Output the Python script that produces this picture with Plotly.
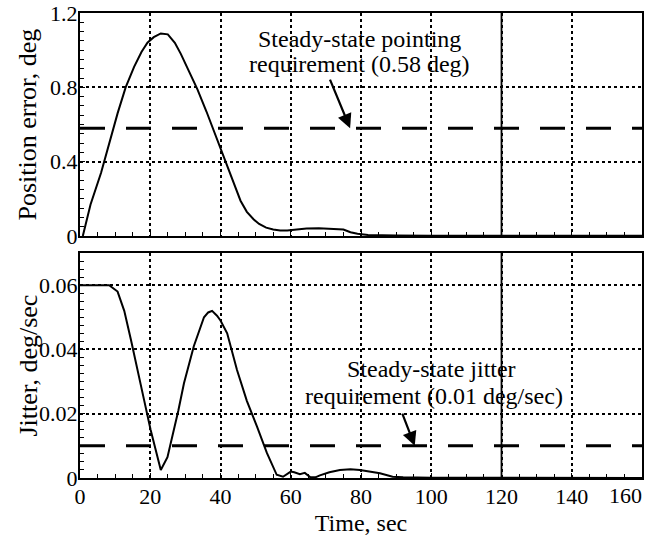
import plotly.graph_objects as go

# ---- data ----
pos_time = [0.8, 3, 6, 8, 10.7, 13, 15.4, 17.5, 19.2, 21, 23, 25, 27, 28.7, 31, 33.4, 36, 38, 40, 42,
            44, 45.7, 47.5, 49.4, 51, 53, 55, 57, 59, 61, 64.5, 68, 72, 75, 77, 79, 82, 86, 90, 100,
            120, 140, 160]
pos_err = [0.0, 0.17, 0.34, 0.48, 0.66, 0.80, 0.91, 0.99, 1.04, 1.07, 1.09, 1.085, 1.04, 0.98, 0.89,
           0.79, 0.67, 0.57, 0.47, 0.37, 0.27, 0.19, 0.13, 0.09, 0.065, 0.045, 0.035, 0.03, 0.03, 0.035,
           0.04, 0.042, 0.04, 0.035, 0.02, 0.012, 0.006, 0.004, 0.003, 0.002, 0.002, 0.002, 0.002]

jit_time = [0, 8.3, 10.7, 12.6, 14.5, 16.4, 18.3, 20.1, 22, 23, 24.9, 26.8, 28, 29.6, 32.4, 35.3, 36.5,
            37.6, 39, 40, 41.9, 44.7, 47.5, 50.4, 53.2, 56, 57.8, 60, 61, 62.6, 64, 65.5, 67, 68.3, 71,
            74, 77, 79.7, 82, 85.4, 89, 92, 100, 120, 140, 160]
jitter = [0.06, 0.06, 0.058, 0.052, 0.043, 0.033, 0.024, 0.015, 0.0065, 0.0025, 0.0065, 0.015, 0.021,
          0.0295, 0.041, 0.05, 0.0515, 0.052, 0.0505, 0.049, 0.045, 0.0336, 0.024, 0.016, 0.0078, 0.001,
          0.0004, 0.002, 0.0018, 0.0012, 0.0016, 0.0003, 0.0002, 0.0008, 0.0018, 0.0025, 0.0027, 0.0025,
          0.002, 0.0015, 0.0004, 0.0002, 0.0001, 0.0, 0.0, 0.0]

pointing_req = 0.58
jitter_req = 0.01
marker_time = 120
time_range = [0, 160]
x_ticks = [0, 20, 40, 60, 80, 100, 120, 140, 160]
x_tick_text = ["0", "20", "40", "60", "80", "100", "120", "140", "160"]
pos_ticks = [0, 0.4, 0.8, 1.2]
pos_tick_text = ["0", "0.4", "0.8", "1.2"]
jit_ticks = [0, 0.02, 0.04, 0.06]
jit_tick_text = ["0", "0.02", "0.04", "0.06"]

FONT = "Liberation Serif"
BLACK = "black"
tick_font = dict(family=FONT, size=22, color=BLACK)

# the last x label sits left of its tick (inside the figure edge), as in the original:
# it is drawn by an overlaying axis whose labels are right-aligned to the tick.
main_x_text = x_tick_text[:-1] + [""]
edge_x_vals = [x_ticks[-1]]
edge_x_text = [x_tick_text[-1]]

fig = go.Figure()

fig.add_trace(go.Scatter(x=pos_time, y=pos_err, mode="lines", line=dict(color=BLACK, width=2),
                         xaxis="x", yaxis="y", showlegend=False))
fig.add_trace(go.Scatter(x=time_range, y=[pointing_req] * 2, mode="lines",
                         line=dict(color=BLACK, width=3, dash="25px,21px"),
                         xaxis="x", yaxis="y", showlegend=False))
fig.add_trace(go.Scatter(x=jit_time, y=jitter, mode="lines", line=dict(color=BLACK, width=2),
                         xaxis="x2", yaxis="y2", showlegend=False))
fig.add_trace(go.Scatter(x=time_range, y=[jitter_req] * 2, mode="lines",
                         line=dict(color=BLACK, width=3, dash="25px,21px"),
                         xaxis="x3", yaxis="y2", showlegend=False))

common_x = dict(range=time_range, tickvals=x_ticks, ticktext=main_x_text, showgrid=True,
                gridcolor=BLACK, gridwidth=1.5, griddash="dot", showline=True, linecolor=BLACK,
                linewidth=2, mirror=True, ticks="inside", ticklen=5, tickcolor=BLACK, zeroline=False,
                automargin=False, ticklabelstandoff=-2,
                minor=dict(dtick=5, ticks="inside", ticklen=4, tickcolor=BLACK, showgrid=False),
                tickfont=tick_font)
common_y = dict(showgrid=True, gridcolor=BLACK, gridwidth=1.5, griddash="dot", showline=True,
                linecolor=BLACK, linewidth=2, mirror=True, ticks="inside", ticklen=5,
                tickcolor=BLACK, zeroline=False, automargin=False, ticklabelstandoff=-4,
                ticklabeloverflow="allow", tickfont=tick_font)

fig.update_layout(
    width=656, height=536,
    margin=dict(l=80, r=14, t=13, b=58, autoexpand=False),
    paper_bgcolor="white", plot_bgcolor="white",
    xaxis=dict(common_x, anchor="y", showticklabels=False),
    yaxis=dict(common_y, domain=[0.5204, 1], range=[0, 1.2], tickvals=pos_ticks,
               ticktext=pos_tick_text, minor=dict(dtick=0.05, ticks="inside", ticklen=4,
                                                  tickcolor=BLACK, showgrid=False)),
    xaxis2=dict(common_x, anchor="y2", matches="x",
                title=dict(text="Time, sec", font=dict(family=FONT, size=24, color=BLACK), standoff=6)),
    xaxis3=dict(range=time_range, anchor="y2", overlaying="x2", side="bottom", matches="x",
                tickvals=edge_x_vals, ticktext=edge_x_text, ticklabelposition="outside left",
                ticks="", showgrid=False, showline=False, zeroline=False, automargin=False,
                ticklabelstandoff=2, tickfont=tick_font),
    yaxis2=dict(common_y, domain=[0, 0.4839], range=[0, 0.07], tickvals=jit_ticks,
                ticktext=jit_tick_text, minor=dict(dtick=0.0025, ticks="inside", ticklen=4,
                                                   tickcolor=BLACK, showgrid=False)),
)

# solid reference line at the marker time in both panels
for xr, yr in (("x", "y domain"), ("x2", "y2 domain")):
    fig.add_shape(type="line", xref=xr, yref=yr, x0=marker_time, x1=marker_time, y0=0, y1=1,
                  line=dict(color=BLACK, width=1.8), layer="above")

tfont = dict(family=FONT, size=24, color=BLACK)
# y-axis titles
fig.add_annotation(text="Position error, deg", xref="paper", yref="y domain", x=0, y=0.5,
                   xanchor="center", yanchor="middle", xshift=-52, textangle=-90,
                   showarrow=False, font=dict(family=FONT, size=26, color=BLACK))
fig.add_annotation(text="Jitter, deg/sec", xref="paper", yref="y2 domain", x=0, y=0.5,
                   xanchor="center", yanchor="middle", xshift=-52, textangle=-90,
                   showarrow=False, font=dict(family=FONT, size=26, color=BLACK))

# requirement labels
fig.add_annotation(text="Steady-state pointing", xref="x", yref="y", x=79.5, y=1.06,
                   showarrow=False, font=tfont)
fig.add_annotation(text="requirement (0.58 deg)", xref="x", yref="y", x=79.5, y=0.925,
                   showarrow=False, font=tfont)
fig.add_annotation(text="", xref="x", yref="y", x=76.9, y=pointing_req, axref="x", ayref="y",
                   ax=71.0, ay=0.85, showarrow=True, arrowhead=2, arrowsize=1.3, arrowwidth=2.2,
                   arrowcolor=BLACK)

fig.add_annotation(text="Steady-state jitter", xref="x2", yref="y2", x=100.2, y=0.0339,
                   showarrow=False, font=tfont)
fig.add_annotation(text="requirement (0.01 deg/sec)", xref="x2", yref="y2", x=100.7, y=0.0255,
                   showarrow=False, font=tfont)
fig.add_annotation(text="", xref="x2", yref="y2", x=95.3, y=jitter_req, axref="x2", ayref="y2",
                   ax=91.6, ay=0.0205, showarrow=True, arrowhead=2, arrowsize=1.3, arrowwidth=2.2,
                   arrowcolor=BLACK)

# remove the default page margin so the 656x536 figure fills the window exactly
fig.write_html("out.html", config={"displayModeBar": False},
               post_script="document.body.style.margin='0';")
